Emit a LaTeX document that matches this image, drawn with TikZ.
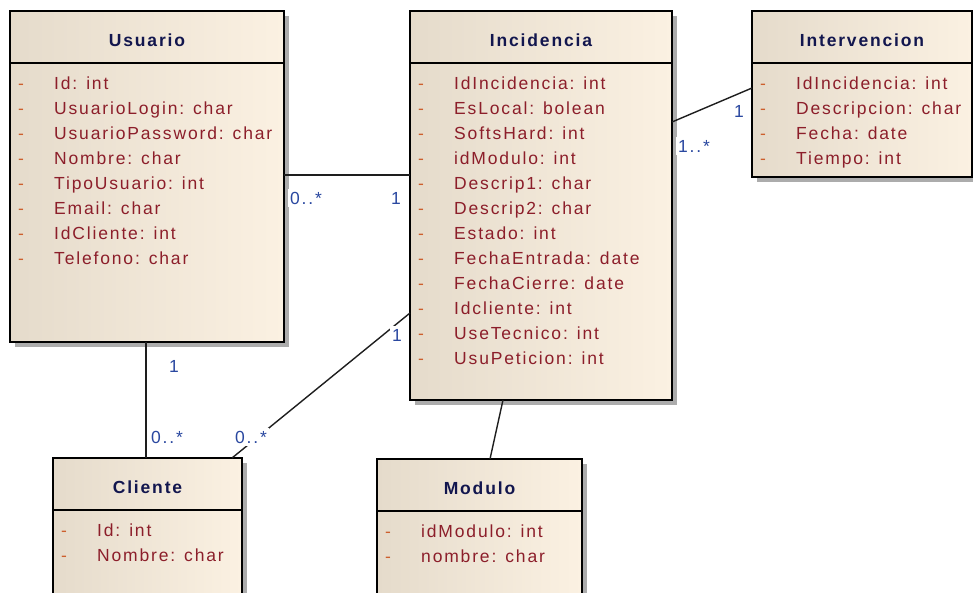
\documentclass[tikz,border=0pt]{standalone}
\usepackage{fontspec}
\setmainfont{Liberation Sans}
\newfontfamily\umlfont[LetterSpace=10.5]{Liberation Sans}
\usetikzlibrary{calc}

\definecolor{boxleft}{RGB}{229,219,203}
\definecolor{boxright}{RGB}{251,241,226}
\definecolor{shadowgray}{RGB}{172,172,172}
\definecolor{titlecol}{RGB}{18,22,78}
\definecolor{attrcol}{RGB}{140,30,42}
\definecolor{dashcol}{RGB}{205,95,45}
\definecolor{multcol}{RGB}{42,72,160}
\definecolor{linecol}{RGB}{30,30,30}

\tikzset{
  classbox/.style={draw=black, line width=1.4pt, rectangle, inner sep=0pt, outer sep=0pt,
    left color=boxleft, right color=boxright, shading angle=90},
  boxline/.style={draw=black, line width=1.4pt},
  classtitle/.style={anchor=base, inner sep=0pt, text=titlecol, font=\umlfont\fontsize{17.5}{20}\selectfont\bfseries},
  attrtxt/.style={anchor=base west, inner sep=0pt, text=attrcol, font=\umlfont\fontsize{17.5}{20}\selectfont},
  dashtxt/.style={anchor=base, inner sep=0pt, text=dashcol, font=\umlfont\fontsize{17.5}{20}\selectfont},
  conn/.style={draw=linecol, line width=1.4pt},
  mult/.style={anchor=base, fill=white, inner sep=2.5pt, text=multcol, font=\umlfont\fontsize{17.5}{20}\selectfont},
}

% \umlclass{name}{x}{y}{width}{height}{title}{attributes}
\newcommand\umlclass[7]{%
  \fill[shadowgray] (#2+5,#3+5) rectangle ++(#4,#5);
  \node[classbox, minimum width=#4pt, minimum height=#5pt, anchor=north west] (#1) at (#2,#3) {};
  \draw[boxline] ($(#1.north west)+(0,52)$) -- ($(#1.north east)+(0,52)$);
  \node[classtitle] (#1-title) at ($(#1.north)+(0,35)$) {#6};
  \foreach \a [count=\i] in {#7} {
    \node[dashtxt] (#1-d\i) at ($(#1.north west)+(11,52+26+25*\i-25)$) {-};
    \node[attrtxt] (#1-a\i) at ($(#1.north west)+(44,52+26+25*\i-25)$) {\a};
  }%
}

\begin{document}
\begin{tikzpicture}[x=1pt, y=-1pt]
  \useasboundingbox (0,0) rectangle (973,592);
  \fill[white] (0,0) rectangle (973,592);
  \clip (0,0) rectangle (973,592);

  \umlclass{usuario}{10}{11}{274}{331}{Usuario}{Id: int, UsuarioLogin: char, UsuarioPassword: char, Nombre: char, TipoUsuario: int, Email: char, IdCliente: int, Telefono: char}
  \umlclass{incid}{410}{11}{262}{389}{Incidencia}{IdIncidencia: int, EsLocal: bolean, SoftsHard: int, idModulo: int, Descrip1: char, Descrip2: char, Estado: int, FechaEntrada: date, FechaCierre: date, Idcliente: int, UseTecnico: int, UsuPeticion: int}
  \umlclass{interv}{752}{11}{220}{166}{Intervencion}{IdIncidencia: int, Descripcion: char, Fecha: date, Tiempo: int}
  \umlclass{cliente}{53}{458}{189}{150}{Cliente}{Id: int, Nombre: char}
  \umlclass{modulo}{377}{459}{205}{150}{Modulo}{idModulo: int, nombre: char}

  % associations
  \draw[conn] (usuario.east |- 0,175) -- (incid.west |- 0,175);
  \draw[conn] (incid.east |- 0,122) -- (interv.west |- 0,88);
  \draw[conn] (usuario.south -| 146,0) -- (cliente.north -| 146,0);
  \draw[conn] (incid.west |- 0,313) -- (cliente.north -| 232,0);
  \draw[conn] (incid.south -| 503,0) -- (modulo.north -| 490,0);

  % multiplicities
  \node[mult] (m1) at (306,204) {0..*};
  \node[mult] (m2) at (396,204) {1};
  \node[mult] (m3) at (739,117) {1};
  \node[mult] (m4) at (694,152) {1..*};
  \node[mult] (m5) at (174,372) {1};
  \node[mult] (m6) at (167,443) {0..*};
  \node[mult] (m7) at (251,443) {0..*};
  \node[mult] (m8) at (397,341) {1};
\end{tikzpicture}
\end{document}
